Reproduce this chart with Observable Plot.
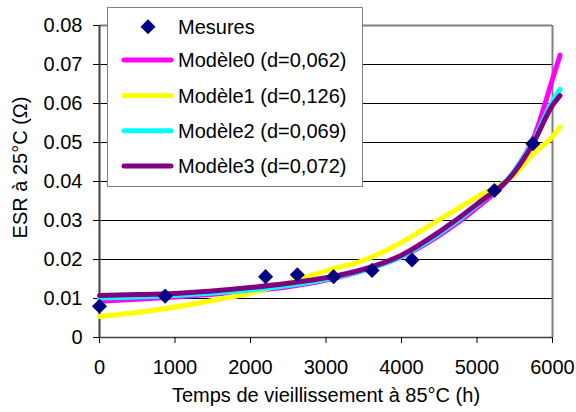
<!DOCTYPE html>
<html><head><meta charset="utf-8">
<script src="https://cdn.jsdelivr.net/npm/d3@7"></script>
<script src="https://cdn.jsdelivr.net/npm/@observablehq/plot@0.6"></script>
<style>
body{margin:0;background:#fff;font-family:"Liberation Sans",Arial,sans-serif;}
#wrap{position:relative;width:576px;height:412px;}
#legend{position:absolute;left:0;top:0;}
</style></head><body><div id="wrap"></div>
<script>
// Data
const hours   = [0, 500, 1000, 1500, 2000, 2500, 3000, 3500, 4000, 4500, 5000, 5500, 5750, 6000, 6100];
const modele0 = [0.0093, 0.0098, 0.0104, 0.0111, 0.0119, 0.0130, 0.0147, 0.0172, 0.0207, 0.0262, 0.0333, 0.0428, 0.0512, 0.0662, 0.0724];
const modele1 = [0.0054, 0.0064, 0.0078, 0.0095, 0.0114, 0.0140, 0.0171, 0.0198, 0.0244, 0.0302, 0.0360, 0.0418, 0.0472, 0.0515, 0.0540];
const modele2 = [0.0101, 0.0104, 0.0108, 0.0114, 0.0122, 0.0133, 0.0149, 0.0172, 0.0208, 0.0266, 0.0339, 0.0428, 0.0505, 0.0606, 0.0636];
const modele3 = [0.0108, 0.0110, 0.0113, 0.0119, 0.0128, 0.0139, 0.0153, 0.0175, 0.0211, 0.0271, 0.0342, 0.0425, 0.0500, 0.0595, 0.0620];
const mesuresX = [0, 870, 2200, 2620, 3100, 3610, 4140, 5230, 5740];
const mesuresY = [0.0080, 0.0106, 0.0156, 0.0161, 0.0156, 0.0172, 0.0199, 0.0377, 0.0497];
const xTicks = [0, 1000, 2000, 3000, 4000, 5000, 6000];
const yTicks = [0, 0.01, 0.02, 0.03, 0.04, 0.05, 0.06, 0.07, 0.08];
const seriesNames = ["Modèle0 (d=0,062)", "Modèle1 (d=0,126)", "Modèle2 (d=0,069)", "Modèle3 (d=0,072)"];
const seriesColors = ["#ff00ff", "#ffff00", "#00ffff", "#800080"];
const mesuresName = "Mesures";
const mesuresColor = "#000080";
const xTitle = "Temps de vieillissement à 85°C (h)";
const yTitle = "ESR à 25°C (Ω)";

const models = [modele0, modele1, modele2, modele3];
const modelRows = models.flatMap((vals, i) => vals.map((v, j) => ({x: hours[j], y: v, s: seriesNames[i]})));
const mesures = mesuresX.map((x, i) => ({x, y: mesuresY[i]}));
const yFmt = d => d === 0 ? "0" : d3.format(".2f")(d);
const FONT = "Liberation Sans, Arial, sans-serif";

const chart = Plot.plot({
  width: 576, height: 412,
  marginLeft: 99, marginRight: 24, marginTop: 25, marginBottom: 75,
  style: {fontFamily: FONT, fontSize: "20px", background: "transparent", color: "#000", overflow: "visible"},
  x: {domain: [0, 6000], label: null},
  y: {domain: [0, 0.08], label: null},
  color: {domain: seriesNames, range: seriesColors},
  marks: [
    Plot.gridY(yTicks, {stroke: "#000", strokeOpacity: 1, strokeWidth: 1}),
    Plot.ruleY([0.08], {stroke: "#808080", strokeWidth: 2}),
    Plot.ruleX([6000], {stroke: "#808080", strokeWidth: 2}),
    Plot.ruleY([0], {stroke: "#404040", strokeWidth: 1.5}),
    Plot.ruleX([0], {stroke: "#404040", strokeWidth: 2}),
    Plot.axisY({ticks: yTicks, tickFormat: yFmt, tickSize: 6, tickPadding: 11, label: null, fontSize: 20, stroke: "#000"}),
    Plot.axisX({ticks: xTicks, tickFormat: d => String(d), tickSize: 6, tickPadding: 16, label: null, fontSize: 20, stroke: "#000"}),
    Plot.line(modelRows, {x: "x", y: "y", z: "s", stroke: "s", strokeWidth: 5, curve: "monotone-x"}),
    Plot.dot(mesures, {x: "x", y: "y", symbol: "diamond2", r: 6.8, fill: mesuresColor, stroke: "none"}),
    Plot.text([xTitle], {text: d => d, frameAnchor: "bottom", dy: 58, lineAnchor: "middle", textAnchor: "middle", fontSize: 20, fill: "#000"}),
    Plot.text([yTitle], {text: d => d, frameAnchor: "left", rotate: -90, dx: -79, dy: -14, lineAnchor: "middle", textAnchor: "middle", fontSize: 20, fill: "#000"})
  ]
});
const wrap = document.getElementById("wrap");
wrap.appendChild(chart);

// Legend overlay
const ns = "http://www.w3.org/2000/svg";
const lg = document.createElementNS(ns, "svg");
lg.setAttribute("id", "legend");
lg.setAttribute("width", 576);
lg.setAttribute("height", 200);
lg.style.fontFamily = FONT;
lg.style.fontSize = "20px";
let html = `<rect x="107.5" y="7.5" width="255" height="179" fill="#fff" stroke="#808080" stroke-width="1"/>`;
const rowsY = [26.7, 60, 95.5, 130.7, 166];
html += `<path d="M148,${rowsY[0]-7.5}L155.5,${rowsY[0]}L148,${rowsY[0]+7.5}L140.5,${rowsY[0]}Z" fill="${mesuresColor}"/>`;
html += `<text x="178" y="${rowsY[0]+7}" fill="#000">${mesuresName}</text>`;
seriesNames.forEach((n, i) => {
  const y = rowsY[i+1];
  html += `<line x1="124" x2="171" y1="${y}" y2="${y}" stroke="${seriesColors[i]}" stroke-width="5" stroke-linecap="round"/>`;
  html += `<text x="178" y="${y+7}" fill="#000">${n}</text>`;
});
lg.innerHTML = html;
wrap.appendChild(lg);
</script>
</body></html>
